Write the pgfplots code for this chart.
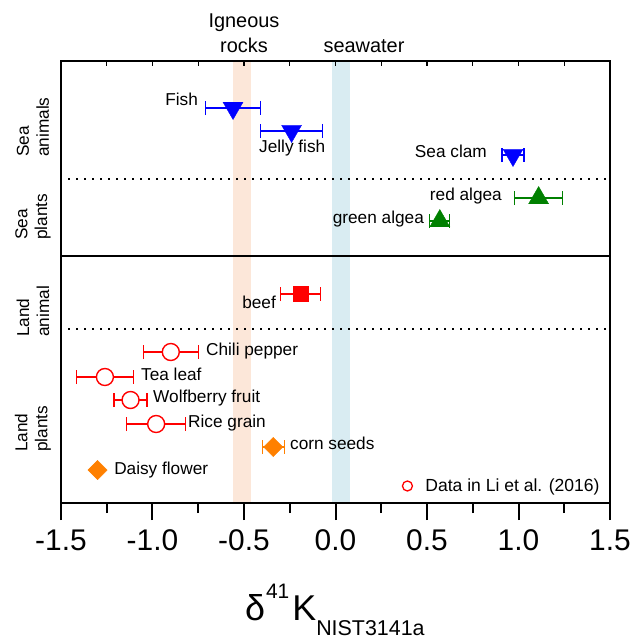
\documentclass[border=0pt]{standalone}
\usepackage{fontspec}
\setmainfont{Liberation Sans}
\usepackage{pgfplots}
\pgfplotsset{compat=1.18}
\usepackage{pgfplotstable}
\definecolor{kblue}{RGB}{0,0,255}
\definecolor{kgreen}{RGB}{0,128,0}
\definecolor{kred}{RGB}{255,0,0}
\definecolor{korange}{RGB}{255,128,0}
\definecolor{igneous}{HTML}{FCE7D9}
\definecolor{seawater}{HTML}{D9ECF2}

% y = row position, counted down from the top of the figure
\pgfplotstableread{
x y ex
-0.56 108 0.15
-0.24 131 0.17
0.97 155 0.06
}\seaanimals
\pgfplotstableread{
x y ex
1.11 198 0.13
0.57 221 0.055
}\seaplants
\pgfplotstableread{
x y ex
-0.19 294 0.11
}\landanimal
\pgfplotstableread{
x y ex
-0.90 352 0.15
-1.26 377 0.155
-1.12 400 0.09
-0.98 424 0.16
}\lidata
\pgfplotstableread{
x y ex
-0.34 447 0.06
-1.30 470 0.0
}\corndaisy

\newcommand\lab{\fontsize{17.3}{20}\selectfont}

\pgfplotsset{
  errx/.style={error bars/x dir=both, error bars/x explicit,
    error bars/error bar style={line width=1.2bp},
    error bars/error mark options={rotate=90, mark size=7bp, line width=1.2bp}},
}

\begin{document}
\begin{tikzpicture}
\begin{axis}[name=ax, scale only axis, width=549bp, height=442bp,
  xmin=-1.5, xmax=1.5, ymin=61, ymax=503, y dir=reverse,
  xtick={-1.5,-1,...,1.5}, minor x tick num=1, ytick=\empty,
  xtick pos=left, tick align=outside,
  major tick length=17bp, minor tick length=10bp,
  tick style={black, line width=2bp},
  axis line style={line width=2bp},
  xticklabel style={font=\fontsize{30}{30}\selectfont, yshift=-6bp,
    /pgf/number format/.cd, fixed, fixed zerofill, precision=1, assume math mode=true},
  clip=false,
  legend style={draw=none, fill=none, at={(0.985,0.0385)}, anchor=east,
    font=\fontsize{17.6}{20}\selectfont, inner sep=0pt},
  legend image code/.code={\draw[#1] plot coordinates {(0bp,0bp)}; \path[draw=none] (0bp,0bp) -- (16bp,0bp);},
]
% reference bands
\addplot[draw=none, fill=igneous, forget plot] coordinates {(-0.56,61) (-0.46,61) (-0.46,503) (-0.56,503)};
\addplot[draw=none, fill=seawater, forget plot] coordinates {(-0.02,61) (0.08,61) (0.08,503) (-0.02,503)};
% separators
\addplot[black, line width=2bp, forget plot] coordinates {(-1.5,256) (1.5,256)};
\addplot[black, line width=1.2bp, dash pattern=on 1.3bp off 6.7bp, forget plot] coordinates {(-1.46,179) (1.48,179)};
\addplot[black, line width=1.2bp, dash pattern=on 1.3bp off 6.7bp, forget plot] coordinates {(-1.46,329) (1.48,329)};

\addplot[forget plot, kblue, only marks, mark=triangle*, mark size=11.5bp, mark options={rotate=180}, errx]
  table[x=x, y=y, x error=ex] {\seaanimals};
\addplot[forget plot, kgreen, only marks, mark=triangle*, mark size=11.5bp, errx]
  table[x=x, y=y, x error=ex] {\seaplants};
\addplot[forget plot, kred, only marks, mark=square*, mark size=7.5bp, errx]
  table[x=x, y=y, x error=ex] {\landanimal};
\addplot[forget plot, kred, only marks, mark=*, mark size=8.5bp, mark options={fill=white, line width=1.4bp}, errx]
  table[x=x, y=y, x error=ex] {\lidata};
\addplot[forget plot, korange, only marks, mark=square*, mark size=6.8bp, mark options={rotate=45}, errx]
  table[x=x, y=y, x error=ex] {\corndaisy};

\addlegendimage{only marks, mark=o, kred, mark size=5bp, mark options={line width=1.3bp}}
\addlegendentry{Data in Li et al. (2016)}

% point labels
\node[anchor=mid east, inner sep=0, font=\lab] at (axis cs:-0.751,103) {Fish};
\node[anchor=mid west, inner sep=0, font=\lab] at (axis cs:-0.418,150) {Jelly fish};
\node[anchor=mid east, inner sep=0, font=\lab] at (axis cs:0.828,155) {Sea clam};
\node[anchor=mid east, inner sep=0, font=\lab] at (axis cs:0.910,198) {red algea};
\node[anchor=mid east, inner sep=0, font=\lab] at (axis cs:0.484,221) {green algea};
\node[anchor=mid east, inner sep=0, font=\lab] at (axis cs:-0.325,306) {beef};
\node[anchor=mid west, inner sep=0, font=\lab] at (axis cs:-0.708,353) {Chili pepper};
\node[anchor=mid west, inner sep=0, font=\lab] at (axis cs:-1.063,378) {Tea leaf};
\node[anchor=mid west, inner sep=0, font=\lab] at (axis cs:-0.997,400) {Wolfberry fruit};
\node[anchor=mid west, inner sep=0, font=\lab] at (axis cs:-0.806,425) {Rice grain};
\node[anchor=mid west, inner sep=0, font=\lab] at (axis cs:-0.249,447) {corn seeds};
\node[anchor=mid west, inner sep=0, font=\lab] at (axis cs:-1.210,472) {Daisy flower};

% group labels on the left
\node[rotate=90, anchor=west, align=left, inner sep=0, font=\lab] at (axis cs:-1.653,157) {Sea\\animals};
\node[rotate=90, anchor=west, align=left, inner sep=0, font=\lab] at (axis cs:-1.653,240) {Sea\\plants};
\node[rotate=90, anchor=west, align=left, inner sep=0, font=\lab] at (axis cs:-1.653,337) {Land\\animal};
\node[rotate=90, anchor=west, align=left, inner sep=0, font=\lab] at (axis cs:-1.653,452) {Land\\plants};

% band labels on top
\node[anchor=south, align=center, inner sep=0, font=\fontsize{20}{25}\selectfont] at (axis cs:-0.5,53) {Igneous\\rocks};
\node[anchor=south, inner sep=0, font=\fontsize{20}{25}\selectfont] at (axis cs:0.156,53) {seawater};

% x label
\node[anchor=base west, inner sep=0] at (axis cs:-0.495,620)
  {\fontsize{36}{36}\selectfont δ\kern1bp\raisebox{22bp}{\fontsize{21}{21}\selectfont 41}\kern3bp K\raisebox{-15bp}{\fontsize{21.5}{21.5}\selectfont NIST3141a}};
\end{axis}
% inward ticks along the top edge
\begin{axis}[at={(ax.south west)}, anchor=south west, scale only axis,
  width=549bp, height=442bp, xmin=-1.5, xmax=1.5, ymin=0, ymax=1,
  xtick={-1.5,-1.25,...,1.5}, ytick=\empty, xticklabels={},
  xtick pos=right, tick align=inside, major tick length=5bp,
  tick style={black, line width=1.2bp}, axis line style={line width=2bp}]
\end{axis}
\pgfresetboundingbox
\path[use as bounding box] ([xshift=-61bp,yshift=-139bp]ax.south west) rectangle ([xshift=22bp,yshift=61bp]ax.north east);
\end{tikzpicture}
\end{document}
